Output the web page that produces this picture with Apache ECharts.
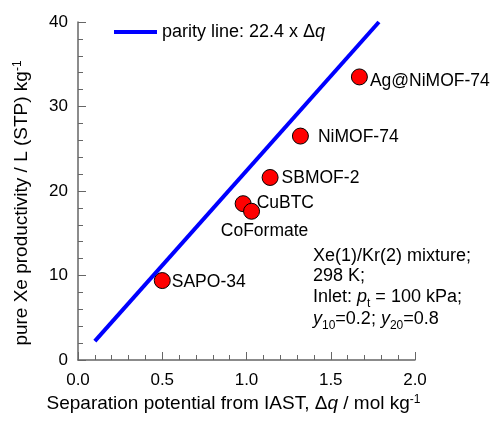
<!DOCTYPE html>
<html><head><meta charset="utf-8">
<script src="https://cdn.jsdelivr.net/npm/echarts@6/dist/echarts.min.js"></script>
<style>html,body{margin:0;padding:0;background:#fff}#c{width:491px;height:429px}</style>
</head><body><div id="c"></div>
<script>
// ---- data ----
const materials = ['SAPO-34', 'CuBTC', 'CoFormate', 'SBMOF-2', 'NiMOF-74', 'Ag@NiMOF-74'];
const deltaQ = [0.50, 0.98, 1.03, 1.14, 1.32, 1.67];
const productivity = [9.4, 18.5, 17.6, 21.6, 26.5, 33.5];
const parityX = [0.1, 1.786];
const parityY = [2.24, 40];
const xTickLabels = ['0.0', '0.5', '1.0', '1.5', '2.0'];
const yTickLabels = ['0', '10', '20', '30', '40'];

// ---- styles ----
const FF = '"Liberation Sans", Arial, sans-serif';
const labelStyle = {
  'SAPO-34': { position: 'right', distance: 1, offset: [0, 2] },
  'CuBTC': { position: 'right', distance: 5, offset: [0, -1] },
  'CoFormate': { position: 'bottom', distance: 2, offset: [13, 0] },
  'SBMOF-2': { position: 'right', distance: 3, offset: [0, 1] },
  'NiMOF-74': { position: 'right', distance: 9, offset: [0, 1] },
  'Ag@NiMOF-74': { position: 'right', distance: 2, offset: [0, 4] }
};

const chart = echarts.init(document.getElementById('c'), null, { renderer: 'canvas' });
const axisColor = '#666';

const scatterData = materials.map((m, i) => ({
  name: m,
  value: [deltaQ[i], productivity[i]],
  label: labelStyle[m]
}));

chart.setOption({
  animation: false,
  backgroundColor: '#fff',
  grid: { left: 78, right: 76, top: 22, bottom: 69 },
  legend: {
    left: 109, top: 18,
    itemWidth: 43, itemHeight: 4, icon: 'rect',
    data: [{ name: 'parity', icon: 'rect' }],
    formatter: () => 'parity line: 22.4 x \u0394{i|q}',
    textStyle: { fontSize: 18, fontFamily: FF, color: '#000', rich: { i: { fontStyle: 'italic', fontSize: 18, fontFamily: FF } } }
  },
  xAxis: {
    type: 'value', min: 0, max: 2, interval: 0.5,
    name: 'Separation potential from IAST, \u0394{i|q} / mol kg{sup|-1}',
    nameLocation: 'middle', nameGap: 26,
    nameTextStyle: {
      fontSize: 19, fontFamily: FF, color: '#000', padding: [0, 26, 0, 0],
      rich: { i: { fontStyle: 'italic', fontSize: 19, fontFamily: FF }, sup: { fontSize: 12, fontFamily: FF, verticalAlign: 'top' } }
    },
    axisLine: { show: true, lineStyle: { color: axisColor, width: 1.5 } },
    axisTick: { show: true, inside: true, length: 8, lineStyle: { color: axisColor } },
    minorTick: { show: true, splitNumber: 5, length: 5, lineStyle: { color: axisColor } },
    splitLine: { show: false },
    axisLabel: {
      fontSize: 17, fontFamily: FF, color: '#000', margin: 12,
      formatter: v => xTickLabels[Math.round(v / 0.5)]
    }
  },
  yAxis: {
    type: 'value', min: 0, max: 40, interval: 10,
    name: 'pure Xe productivity / L (STP) kg{sup|-1}',
    nameLocation: 'middle', nameGap: 47,
    nameTextStyle: {
      fontSize: 19, fontFamily: FF, color: '#000', padding: [0, 24, 0, 0],
      rich: { sup: { fontSize: 12, fontFamily: FF, verticalAlign: 'top' } }
    },
    axisLine: { show: true, lineStyle: { color: axisColor, width: 1.5 } },
    axisTick: { show: true, inside: true, length: 8, lineStyle: { color: axisColor } },
    minorTick: { show: true, splitNumber: 5, length: 5, lineStyle: { color: axisColor } },
    splitLine: { show: false },
    axisLabel: {
      fontSize: 17, fontFamily: FF, color: '#000', margin: 10,
      formatter: v => yTickLabels[Math.round(v / 10)]
    }
  },
  series: [
    {
      name: 'parity', type: 'line',
      data: parityX.map((x, i) => [x, parityY[i]]),
      symbol: 'none', showSymbol: false,
      lineStyle: { color: '#0000ff', width: 4 },
      itemStyle: { color: '#0000ff' },
      z: 2
    },
    {
      name: 'materials', type: 'scatter',
      data: scatterData,
      symbol: 'circle', symbolSize: 16,
      itemStyle: { color: '#ff0000', borderColor: '#000', borderWidth: 1, opacity: 1 },
      label: {
        show: true, formatter: p => p.name,
        fontSize: 17.5, fontFamily: FF, color: '#000'
      },
      z: 3
    }
  ],
  graphic: [
    { type: 'text', x: 313, y: 256, style: { text: 'Xe(1)/Kr(2) mixture;', fontSize: 18, fontFamily: FF, fill: '#000', verticalAlign: 'middle' } },
    { type: 'text', x: 313, y: 276, style: { text: '298 K;', fontSize: 18, fontFamily: FF, fill: '#000', verticalAlign: 'middle' } },
    { type: 'text', x: 313, y: 297, style: {
      text: 'Inlet: {i|p}{sub|t} = 100 kPa;', fontSize: 18, fontFamily: FF, fill: '#000', verticalAlign: 'middle', lineHeight: 26,
      rich: { i: { fontStyle: 'italic', fontSize: 18, fontFamily: FF, lineHeight: 26 }, sub: { fontSize: 12, fontFamily: FF, verticalAlign: 'bottom', lineHeight: 12 } }
    } },
    { type: 'text', x: 313, y: 319, style: {
      text: '{i|y}{sub|10}=0.2; {i|y}{sub|20}=0.8', fontSize: 18, fontFamily: FF, fill: '#000', verticalAlign: 'middle', lineHeight: 26,
      rich: { i: { fontStyle: 'italic', fontSize: 18, fontFamily: FF, lineHeight: 26 }, sub: { fontSize: 12, fontFamily: FF, verticalAlign: 'bottom', lineHeight: 12 } }
    } }
  ]
});
</script>
</body></html>
